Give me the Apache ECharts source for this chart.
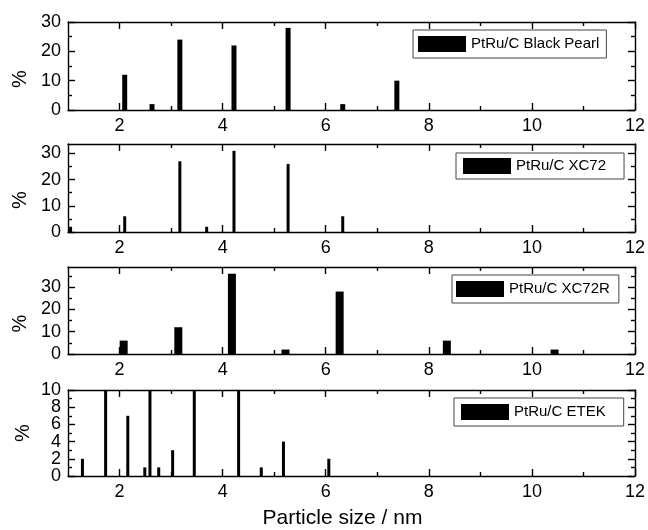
<!DOCTYPE html>
<html>
<head>
<meta charset="utf-8">
<script src="https://cdn.jsdelivr.net/npm/echarts@6/dist/echarts.min.js"></script>
<style>
  html, body { margin: 0; padding: 0; background: #fff; }
  #chart { width: 648px; height: 530px; }
</style>
</head>
<body>
<div id="chart"></div>
<script>
// Particle size axis (nm)
const xMajorTicks = [2, 4, 6, 8, 10, 12];
const xMinorTicks = [3, 5, 7, 9, 11];

// Size distributions: bin centre (nm) and share of particles (%)
const blackPearlSize = [2.10, 2.63, 3.17, 4.22, 5.27, 6.33, 7.38];
const blackPearlPct  = [12, 2, 24, 22, 28, 2, 10];

const xc72Size = [1.05, 2.10, 3.17, 3.69, 4.22, 5.27, 6.33];
const xc72Pct  = [2, 6, 27, 2, 31, 26, 6];

const xc72rSize = [2.08, 3.14, 4.18, 5.22, 6.27, 8.35, 10.44];
const xc72rPct  = [6, 12, 36, 2, 28, 6, 2];

const etekSize = [1.28, 1.73, 2.16, 2.49, 2.59, 2.76, 3.03, 3.45, 4.31, 4.75, 5.18, 6.06];
const etekPct  = [2, 17, 7, 1, 22, 1, 3, 24, 16, 1, 4, 2];

// Percent axis ticks
const yMajor30 = [0, 10, 20, 30];
const yMinor30 = [5, 15, 25];
const yMinor39 = [5, 15, 25, 35];
const yMajor10 = [0, 2, 4, 6, 8, 10];
const yMinor10 = [1, 3, 5, 7, 9];

const seriesNames = ['PtRu/C Black Pearl', 'PtRu/C XC72', 'PtRu/C XC72R', 'PtRu/C ETEK'];

const FONT = "'Liberation Sans', Arial, sans-serif";
const INK = '#000';
const LINE = { color: INK, width: 1.4 };

const panels = [
  { name: seriesNames[0], size: blackPearlSize, pct: blackPearlPct, ymax: 30,   yMajor: yMajor30, yMinor: yMinor30,
    top: 22,  height: 88, barWidth: 5, legend: { left: 413, top: 30,  padding: [6, 7, 6, 5] }, nameShift: 26 },
  { name: seriesNames[1], size: xc72Size, pct: xc72Pct, ymax: 33.6, yMajor: yMajor30, yMinor: yMinor30,
    top: 144, height: 88, barWidth: 3, legend: { left: 456, top: 153, padding: [5, 18, 5, 7] }, nameShift: 24 },
  { name: seriesNames[2], size: xc72rSize, pct: xc72rPct, ymax: 39,   yMajor: yMajor30, yMinor: yMinor39,
    top: 267, height: 87, barWidth: 8, legend: { left: 452, top: 275, padding: [6, 9, 6, 4] }, nameShift: 26 },
  { name: seriesNames[3], size: etekSize, pct: etekPct, ymax: 10,   yMajor: yMajor10, yMinor: yMinor10,
    top: 390, height: 86, barWidth: 3, legend: { left: 454, top: 398, padding: [6, 18, 6, 7] }, nameShift: 0 }
];

const grids = [], xAxes = [], yAxes = [], series = [], legends = [];

function tickLabels(values) {
  return {
    show: true, customValues: values, margin: 7, fontSize: 18, color: INK, fontFamily: FONT,
    showMinLabel: true, showMaxLabel: true, hideOverlap: false
  };
}

function xAxisDef(gi, position, ticks, len, labelValues, withLine) {
  return {
    gridIndex: gi, type: 'value', min: 1, max: 12, position: position,
    axisLine: { show: withLine, onZero: false, lineStyle: LINE },
    axisTick: { show: true, inside: true, length: len, customValues: ticks, lineStyle: LINE },
    axisLabel: labelValues ? tickLabels(labelValues) : { show: false },
    splitLine: { show: false }
  };
}

function yAxisDef(gi, position, max, ticks, len, labelValues, withLine) {
  return {
    gridIndex: gi, type: 'value', min: 0, max: max, position: position,
    axisLine: { show: withLine, onZero: false, lineStyle: LINE },
    axisTick: { show: true, inside: true, length: len, customValues: ticks, lineStyle: LINE },
    axisLabel: labelValues ? tickLabels(labelValues) : { show: false },
    splitLine: { show: false }
  };
}

panels.forEach((p, i) => {
  grids.push({ left: 68, width: 567, top: p.top, height: p.height, containLabel: false });

  const xMain = xAxisDef(i, 'bottom', xMajorTicks, 7, xMajorTicks, true);
  if (i === panels.length - 1) {
    xMain.name = 'Particle size / nm';
    xMain.nameLocation = 'middle';
    xMain.nameGap = 32;
    xMain.nameTextStyle = { fontSize: 21, color: INK, fontFamily: FONT, padding: [0, 18, 0, 0] };
  }
  xAxes.push(
    xMain,
    xAxisDef(i, 'bottom', xMinorTicks, 4, null, false),
    xAxisDef(i, 'top', xMajorTicks, 7, null, true),
    xAxisDef(i, 'top', xMinorTicks, 4, null, false)
  );

  // Tick labels alternate between the two left axes so closely spaced
  // labels are never thinned out by overlap handling.
  const evenLabels = p.yMajor.filter((v, k) => k % 2 === 0);
  const oddLabels = p.yMajor.filter((v, k) => k % 2 === 1);

  const yMain = yAxisDef(i, 'left', p.ymax, p.yMajor, 7, evenLabels, true);
  yMain.name = '%';
  yMain.nameLocation = 'middle';
  yMain.nameGap = 35;
  yMain.nameTextStyle = { fontSize: 20, color: INK, fontFamily: FONT, padding: [0, p.nameShift, 0, 0] };
  yAxes.push(
    yMain,
    yAxisDef(i, 'left', p.ymax, p.yMinor, 4, oddLabels, false),
    yAxisDef(i, 'right', p.ymax, p.yMajor, 7, null, true),
    yAxisDef(i, 'right', p.ymax, p.yMinor, 4, null, false)
  );

  series.push({
    name: p.name,
    type: 'bar',
    xAxisIndex: i * 4,
    yAxisIndex: i * 4,
    barWidth: p.barWidth,
    clip: true,
    itemStyle: { color: INK },
    data: p.size.map((s, k) => [s, p.pct[k]])
  });

  legends.push({
    left: p.legend.left, top: p.legend.top, padding: p.legend.padding,
    orient: 'horizontal', itemWidth: 48, itemHeight: 16, itemGap: 0,
    borderColor: '#444', borderWidth: 1, borderRadius: 0,
    selectedMode: false,
    textStyle: { fontSize: 15, color: INK, fontFamily: FONT },
    data: [{ name: p.name, icon: 'rect', itemStyle: { color: INK } }]
  });
});

const chart = echarts.init(document.getElementById('chart'), null, { renderer: 'canvas' });
chart.setOption({
  animation: false,
  backgroundColor: '#fff',
  grid: grids,
  xAxis: xAxes,
  yAxis: yAxes,
  legend: legends,
  series: series
});
</script>
</body>
</html>
